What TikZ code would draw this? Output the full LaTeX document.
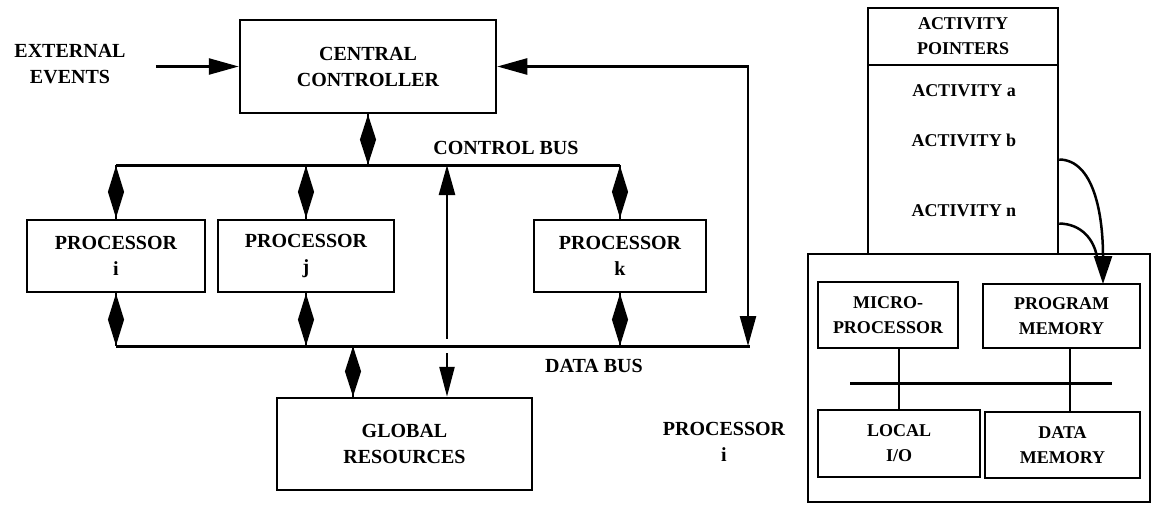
\documentclass[tikz,border=0pt]{standalone}
\usepackage{fontspec}
\setmainfont{Liberation Serif}
\usetikzlibrary{positioning,arrows.meta,calc,shapes.geometric}
\tikzset{
  blk/.style={rectangle, line width=2.5pt, minimum width=3cm, minimum height=72pt, inner sep=0pt, text centered, align=center, draw=black, font=\fontsize{20}{26}\selectfont\bfseries},
  sblk/.style={rectangle, line width=2.5pt, inner sep=0pt, text centered, align=center, draw=black, font=\fontsize{18}{25}\selectfont\bfseries},
  lbl/.style={inner sep=0pt, align=center, font=\fontsize{20}{26}\selectfont\bfseries},
  slbl/.style={inner sep=0pt, align=center, font=\fontsize{18}{25}\selectfont\bfseries},
  bus/.style={line width=3pt},
  dmd/.style={diamond, fill=black, inner sep=0pt, minimum width=17pt, minimum height=53pt},
  dia/.style={line width=2pt},
  arr/.style={line width=2.5pt, -{Triangle[length=30pt,width=16pt]}},
  node distance=7mm
}

\begin{document}
\begin{tikzpicture}[x=1pt,y=-1pt]
	\useasboundingbox (0,0) rectangle (1153,506);
	% left: controller and processors
	\node[blk, minimum width=256pt, minimum height=93pt] (cc) at (368,66.5) {CENTRAL\\CONTROLLER};
	\node[lbl] (ext) at (70,64) {EXTERNAL\\EVENTS};
	\node[blk, minimum width=178pt] (pi) at (116,256) {PROCESSOR\\i};
	\node[blk, minimum width=176pt] (pj) at (306,256) {PROCESSOR\\j};
	\node[blk, minimum width=172pt] (pk) at (620,256) {PROCESSOR\\k};
	\node[blk, minimum width=255pt, minimum height=92pt] (glob) at (404.5,444) {GLOBAL\\RESOURCES};
	\node[lbl] (cbl) at (506,148) {CONTROL BUS};
	\node[lbl] (dbl) at (594,366) {DATA BUS};
	\node[lbl] (pil) at (724,442) {PROCESSOR\\i};

	\coordinate (cbL) at (116,165);
	\coordinate (cbR) at (620,165);
	\coordinate (dbL) at (116,346);
	\coordinate (dbR) at (750,346);
	\coordinate (fb) at (748,346);
	\coordinate (gA) at (353,346);
	\coordinate (gB) at (447,165);

	\draw[arr] (ext.east |- cc.west) ++(30,0) -- (cc.west);
	\draw[line width=2.5pt, {Triangle[length=30pt,width=16pt]}-{Triangle[length=30pt,width=16pt]}] (cc.east) -- (cc.east -| fb) -- (fb);
	\draw[bus] (cbL) -- (cbR);
	\draw[dia] (cc.south) -- node[dmd, minimum height=51pt] {} (cc.south |- cbL);
	\foreach \p in {pi,pj,pk} {
		\draw[dia] (\p.north |- cbL) -- node[dmd] {} (\p.north);
		\draw[dia] (\p.south) -- node[dmd] {} (\p.south |- dbL);
	}
	\draw[line width=2.5pt, {Triangle[length=30pt,width=16pt]}-{Triangle[length=30pt,width=15pt]}] (gB) -- (gB |- glob.north);
	\fill[white] (438,339) rectangle (456,353);
	\draw[bus] (dbL) -- (dbR);
	\draw[dia] (gA) -- node[dmd, minimum height=51pt] {} (gA |- glob.north);

	% right: processor i in detail
	\node[sblk, minimum width=190pt, minimum height=57pt] (acth) at (963,36.5) {ACTIVITY\\POINTERS};
	\node[sblk, minimum width=190pt, minimum height=189pt] (actb) at (963,159.5) {};
	\node[slbl] (acta) at (964,91) {ACTIVITY a};
	\node[slbl] (actbb) at (964,140) {ACTIVITY b};
	\node[slbl] (actn) at (964,211) {ACTIVITY n};
	\node[sblk, minimum width=342pt, minimum height=248pt] (outer) at (979,378) {};
	\node[sblk, minimum width=140pt, minimum height=66pt] (micro) at (888,315) {MICRO-\\PROCESSOR};
	\node[sblk, minimum width=157pt, minimum height=64pt] (pm) at (1061.5,316) {PROGRAM\\MEMORY};
	\node[sblk, minimum width=162pt, minimum height=67pt] (lio) at (899,443.5) {LOCAL\\I/O};
	\node[sblk, minimum width=155pt, minimum height=66pt] (dm) at (1062.5,445) {DATA\\MEMORY};

	\coordinate (lbL) at (850,383);
	\coordinate (lbR) at (1112,383);
	\coordinate (pmIn) at (1103,284);
	\coordinate (join) at (1097,257);

	\draw[bus] (lbL) -- (lbR);
	\draw[line width=2pt] (lio.north) -- (lio.north |- micro.south);
	\draw[line width=2pt] (dm.north -| 1070,0) -- (pm.south -| 1070,0);
	\draw[line width=2.5pt, -{Triangle[length=28pt,width=18pt]}] (actb.east) .. controls (1094,160) and (1103,215) .. (pmIn);
	\draw[line width=2.5pt] ($(actb.east)+(0,64)$) .. controls (1082,224) and (1094,240) .. (join);
\end{tikzpicture}
\end{document}
